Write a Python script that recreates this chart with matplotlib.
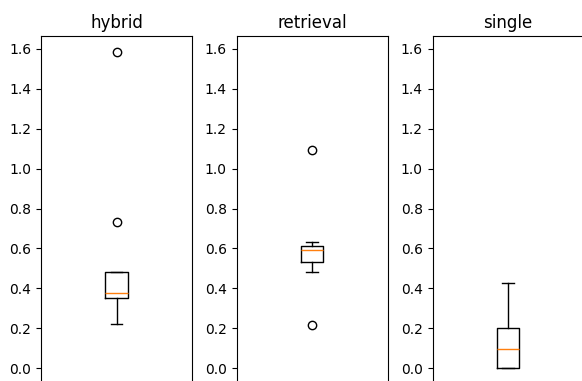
import matplotlib
matplotlib.use("Agg")
import matplotlib.pyplot as plt

titles = ["hybrid", "retrieval", "single"]
medians = [0.379, 0.593, 0.097]
q1s = [0.352, 0.530, 0.0]
q3s = [0.482, 0.613, 0.203]
whislo = [0.220, 0.482, 0.0]
whishi = [0.482, 0.630, 0.427]
fliers = [[1.585, 0.734], [1.093, 0.214], []]

fig = plt.figure(figsize=(5.82, 3.81), dpi=100)

all_vals = []
for i in range(3):
    all_vals += [q1s[i], q3s[i], whislo[i], whishi[i]] + fliers[i]
lo, hi = min(all_vals), max(all_vals)
pad = 0.05 * (hi - lo)

W, H = 582.0, 381.0
lefts = [41.0, 236.5, 432.5]
axw = 151.0
top_px, bot_px = 36.0, 384.0

for i in range(3):
    ax = fig.add_axes([lefts[i] / W, (H - bot_px) / H, axw / W, (bot_px - top_px) / H])
    stats = [dict(med=medians[i], q1=q1s[i], q3=q3s[i],
                  whislo=whislo[i], whishi=whishi[i], fliers=fliers[i])]
    ax.bxp(stats, showfliers=True)
    ax.set_ylim(lo - pad, hi + pad)
    ax.set_xlim(0.5, 1.5)
    ax.set_title(titles[i])
    ax.set_yticks([0.0, 0.2, 0.4, 0.6, 0.8, 1.0, 1.2, 1.4, 1.6])
    ax.set_xticks([])

fig.savefig("out.png", dpi=100)
